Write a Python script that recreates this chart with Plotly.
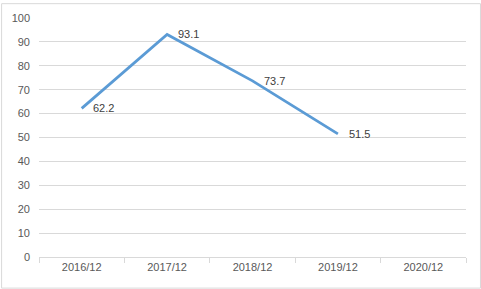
import plotly.graph_objects as go

categories = ["2016/12", "2017/12", "2018/12", "2019/12", "2020/12"]
values = [62.2, 93.1, 73.7, 51.5, None]
labels = ["62.2", "93.1", "73.7", "51.5", ""]
y_ticks = list(range(0, 101, 10))

fig = go.Figure()
fig.add_trace(go.Scatter(
    x=categories, y=values, mode="lines",
    line=dict(color="#5B9BD5", width=2.8),
    hoverinfo="skip", showlegend=False,
))

for c, v, t in zip(categories, values, labels):
    if v is None:
        continue
    fig.add_annotation(
        x=c, y=v, text=t, showarrow=False, xanchor="left", yanchor="middle",
        xshift=9, yshift=0,
        font=dict(family="Liberation Sans, Arial, sans-serif", size=11, color="#404040"),
    )

W, H = 481, 289
ml, mr, mt, mb = 38, 15, 15, 32
pw, ph = W - ml - mr, H - mt - mb

fig.update_layout(
    width=W, height=H,
    margin=dict(l=ml, r=mr, t=mt, b=mb, pad=0),
    paper_bgcolor="white", plot_bgcolor="white",
    font=dict(family="Liberation Sans, Arial, sans-serif", size=11, color="#595959"),
    xaxis=dict(
        type="category", showgrid=False, showline=True, linecolor="#D9D9D9", linewidth=1,
        ticks="outside", tickson="boundaries", ticklen=5, tickcolor="#D9D9D9",
        tickfont=dict(size=11, color="#595959"), range=[-0.5, 4.5],
    ),
    yaxis=dict(
        range=[0, 100], tickvals=y_ticks, showgrid=True, gridcolor="#D9D9D9", gridwidth=1,
        zeroline=False, showline=False, ticks="", ticklabelstandoff=8,
        tickfont=dict(size=11, color="#595959"),
    ),
    shapes=[dict(
        type="rect", xref="paper", yref="paper",
        x0=(0.5 - ml) / pw, x1=(W - 0.5 - ml) / pw,
        y0=-(mb - 0.5) / ph, y1=1 + (mt - 0.5) / ph,
        line=dict(color="#D9D9D9", width=1), fillcolor="rgba(0,0,0,0)", layer="below",
    )],
)

fig.write_html("out.html")
